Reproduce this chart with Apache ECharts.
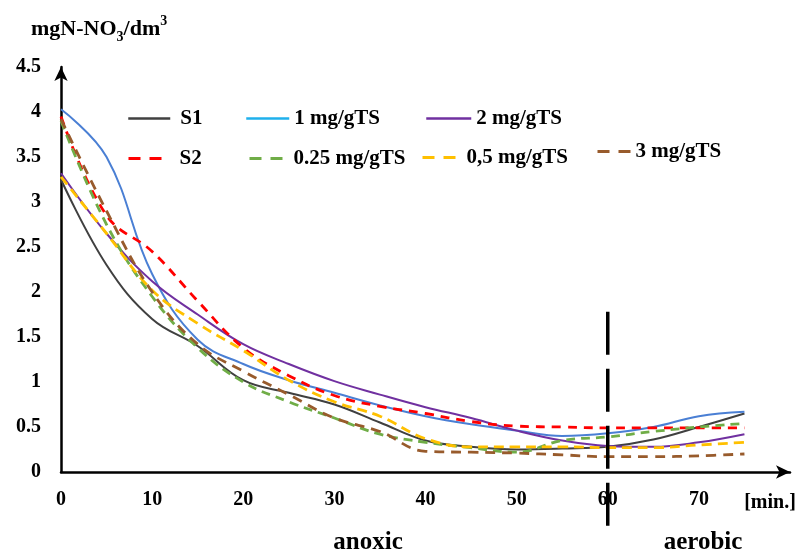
<!DOCTYPE html>
<html><head><meta charset="utf-8">
<script src="https://cdn.jsdelivr.net/npm/echarts@6/dist/echarts.min.js"></script>
<style>html,body{margin:0;padding:0;background:#fff}#c{width:797px;height:552px}</style>
</head><body><div id="c"></div>
<script>
// ---- data ----
const times   = [0, 5, 10, 15, 20, 25, 30, 35, 40, 45, 50, 55, 60, 65, 70, 75];
const s1      = [3.25, 2.30, 1.70, 1.40, 1.02, 0.88, 0.75, 0.55, 0.35, 0.28, 0.25, 0.26, 0.28, 0.36, 0.50, 0.65];
const s2      = [3.95, 2.85, 2.45, 1.90, 1.38, 1.07, 0.85, 0.73, 0.65, 0.56, 0.51, 0.50, 0.49, 0.49, 0.49, 0.49];
const d1      = [4.03, 3.50, 2.20, 1.47, 1.20, 1.02, 0.88, 0.74, 0.62, 0.53, 0.46, 0.40, 0.43, 0.50, 0.62, 0.67];
const d2      = [3.32, 2.65, 2.12, 1.75, 1.42, 1.20, 1.01, 0.86, 0.72, 0.60, 0.46, 0.35, 0.29, 0.28, 0.33, 0.42];
const d025    = [3.90, 2.75, 1.95, 1.38, 1.00, 0.78, 0.60, 0.42, 0.33, 0.27, 0.22, 0.35, 0.39, 0.45, 0.50, 0.54];
const d05     = [3.28, 2.65, 2.02, 1.65, 1.35, 1.02, 0.78, 0.62, 0.37, 0.28, 0.28, 0.28, 0.27, 0.27, 0.30, 0.33];
const d3      = [3.92, 2.90, 2.00, 1.42, 1.12, 0.86, 0.60, 0.45, 0.23, 0.22, 0.21, 0.19, 0.17, 0.17, 0.18, 0.20];
const dividerX = 60;
const dividerY = [1.78, -0.75];
const xMax = 80, yMax = 4.5;

const FF = '"Liberation Serif", "DejaVu Serif", serif';
const pair = arr => times.map((t, i) => [t, arr[i]]);

function mk(name, arr, color, width, dash) {
  return {
    name, type: 'line', data: pair(arr), smooth: 0.4, symbol: 'none', showSymbol: false,
    lineStyle: { color, width, type: dash || 'solid' }, itemStyle: { color }, z: 3
  };
}

function lg(name, left, cy, w, pad, lineColor, dash) {
  const item = { name };
  item.itemStyle = { color: 'rgba(0,0,0,0)', borderColor: 'rgba(0,0,0,0)', borderWidth: 0 };
  item.lineStyle = { color: lineColor, width: dash ? 3 : 2.5, type: dash ? [12, 9] : 'solid' };
  return {
    data: [item], left, top: cy - 10, itemWidth: w, itemHeight: 20, padding: 0,
    selectedMode: false,
    textStyle: { fontFamily: FF, fontWeight: 'bold', fontSize: 21, color: '#000', lineHeight: 20, padding: [0, 0, 0, pad] }
  };
}

const chart = echarts.init(document.getElementById('c'), null, { renderer: 'canvas' });
chart.setOption({
  animation: false,
  backgroundColor: '#fff',
  grid: { left: 61, right: 7, top: 67, bottom: 80, containLabel: false },
  xAxis: {
    type: 'value', min: 0, max: xMax, interval: 10,
    axisLine: { show: true, onZero: false, lineStyle: { color: '#000', width: 2.5 }, symbol: ['none', 'arrow'], symbolSize: [10, 14] },
    axisTick: { show: false }, splitLine: { show: false },
    axisLabel: { formatter: v => (v < xMax ? String(v) : ''), margin: 18, fontFamily: FF, fontWeight: 'bold', fontSize: 20, color: '#000' }
  },
  yAxis: {
    type: 'value', min: 0, max: yMax, interval: 0.5,
    axisLine: { show: true, lineStyle: { color: '#000', width: 2.5 }, symbol: ['none', 'arrow'], symbolSize: [10, 14] },
    axisTick: { show: false }, splitLine: { show: false },
    axisLabel: { margin: 20, fontFamily: FF, fontWeight: 'bold', fontSize: 20, color: '#000' }
  },
  legend: [
    lg('S1', 127, 118, 42, 5, '#404040', false),
    lg('1 mg/gTS', 245, 118, 43, 0, '#1fb0ec', false),
    lg('2 mg/gTS', 425, 118, 45, 0, '#7030a0', false),
    lg('S2', 127, 158, 38, 8, '#ff0000', true),
    lg('0.25 mg/gTS', 248, 158, 33, 6, '#70ad47', true),
    lg('0,5 mg/gTS', 421, 157, 33, 6, '#ffc000', true),
    lg('3 mg/gTS', 596, 151, 33, 0, '#985b2c', true)
  ],
  series: [
    mk('S1', s1, '#404040', 2),
    mk('1 mg/gTS', d1, '#4a7fd4', 2),
    mk('2 mg/gTS', d2, '#7030a0', 2),
    mk('S2', s2, '#ff0000', 2.8, [9, 7]),
    mk('0.25 mg/gTS', d025, '#70ad47', 2.8, [9, 6]),
    mk('0,5 mg/gTS', d05, '#ffc000', 2.8, [10, 6]),
    mk('3 mg/gTS', d3, '#985b2c', 2.8, [10, 7]),
    {
      name: 'divider', type: 'line', data: dividerY.map(y => [dividerX, y]), clip: false, silent: true,
      symbol: 'none', lineStyle: { color: '#000', width: 3.5, type: [43, 14] }, z: 5
    }
  ],
  graphic: [
    { type: 'text', left: 31, top: 14, style: {
        text: '{a|mgN-NO}{sub|3}{a|/dm}{sup|3}',
        rich: {
          a: { fontFamily: FF, fontWeight: 'bold', fontSize: 22, lineHeight: 30, verticalAlign: 'middle', fill: '#000' },
          sub: { fontFamily: FF, fontWeight: 'bold', fontSize: 14, lineHeight: 14, verticalAlign: 'bottom', fill: '#000' },
          sup: { fontFamily: FF, fontWeight: 'bold', fontSize: 14, lineHeight: 14, verticalAlign: 'top', fill: '#000' }
        } } },
    { type: 'text', x: 770, y: 503, style: { text: '[min.]', align: 'center', verticalAlign: 'middle', fontFamily: FF, fontWeight: 'bold', fontSize: 20, fill: '#000' } },
    { type: 'text', x: 368, y: 543, style: { text: 'anoxic', align: 'center', verticalAlign: 'middle', fontFamily: FF, fontWeight: 'bold', fontSize: 25, fill: '#000' } },
    { type: 'text', x: 703, y: 543, style: { text: 'aerobic', align: 'center', verticalAlign: 'middle', fontFamily: FF, fontWeight: 'bold', fontSize: 25, fill: '#000' } }
  ]
});
</script>
</body></html>
